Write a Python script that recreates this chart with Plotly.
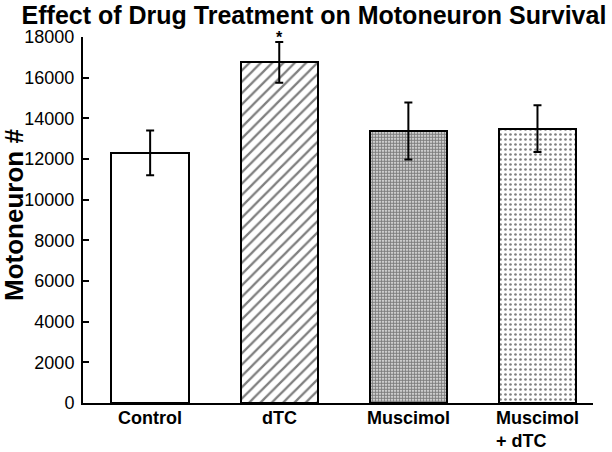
import plotly.graph_objects as go

categories = ["Control", "dTC", "Muscimol", "Muscimol<br>+ dTC"]
means = [12300, 16750, 13380, 13490]
errors = [1100, 1000, 1400, 1150]
significant = [False, True, False, False]
tick_values = [0, 2000, 4000, 6000, 8000, 10000, 12000, 14000, 16000, 18000]

patterns = [
    dict(shape=""),
    dict(shape="/", size=8, solidity=0.28, fgcolor="black", bgcolor="white"),
    dict(shape=".", size=3, solidity=0.7, fgcolor="black", bgcolor="white"),
    dict(shape=".", size=5, solidity=0.22, fgcolor="black", bgcolor="white"),
]

xpos = list(range(len(categories)))
fig = go.Figure()
for i, (c, m, e) in enumerate(zip(categories, means, errors)):
    fig.add_trace(go.Bar(
        x=[xpos[i]], y=[m], width=0.6,
        marker=dict(color="white", line=dict(color="black", width=2), pattern=patterns[i]),
        error_y=dict(type="data", array=[e], color="black", thickness=2, width=4),
        showlegend=False, hoverinfo="skip",
    ))

font_family = "Liberation Sans, Arial, Helvetica, sans-serif"
annotations = []
for i, c in enumerate(categories):
    annotations.append(dict(
        x=xpos[i], y=0, xref="x", yref="y", text=c, showarrow=False,
        xanchor="center", yanchor="top", yshift=-3, align="left",
        font=dict(family=font_family, size=18, color="black", weight="bold"),
    ))
    if significant[i]:
        annotations.append(dict(
            x=xpos[i], y=means[i] + errors[i], xref="x", yref="y", text="*",
            showarrow=False, xanchor="center", yanchor="bottom", yshift=-6,
            font=dict(family=font_family, size=16, color="black", weight="bold"),
        ))

annotations.append(dict(
    x=-0.135, y=0.514, xref="paper", yref="paper", text="Motoneuron #",
    textangle=-90, showarrow=False, xanchor="center", yanchor="middle",
    font=dict(family=font_family, size=26, color="black", weight="bold"),
))

fig.update_layout(
    width=612, height=452,
    margin=dict(l=83, r=19, t=37, b=49),
    paper_bgcolor="white", plot_bgcolor="white",
    title=dict(text="Effect of Drug Treatment on Motoneuron Survival",
               x=0.513, xref="container", xanchor="center",
               y=1 - 15 / 452, yref="container", yanchor="middle",
               font=dict(family=font_family, size=25, color="black", weight="bold")),
    xaxis=dict(range=[-0.52, 3.43], showticklabels=False, ticks="",
               showline=True, linecolor="black", linewidth=2, showgrid=False,
               zeroline=False, fixedrange=True, automargin=False),
    yaxis=dict(range=[0, 18000], tickvals=tick_values, tickformat="d",
               ticks="inside", ticklen=6, tickwidth=2, tickcolor="black",
               showline=True, linecolor="black", linewidth=2, showgrid=False,
               zeroline=False, automargin=False, ticklabelstandoff=3,
               fixedrange=True,
               tickfont=dict(family=font_family, size=18, color="black")),
    annotations=annotations,
    bargap=0,
)

fig.write_html("out.html", config={"displayModeBar": False},
               post_script="document.body.style.margin='0';")
